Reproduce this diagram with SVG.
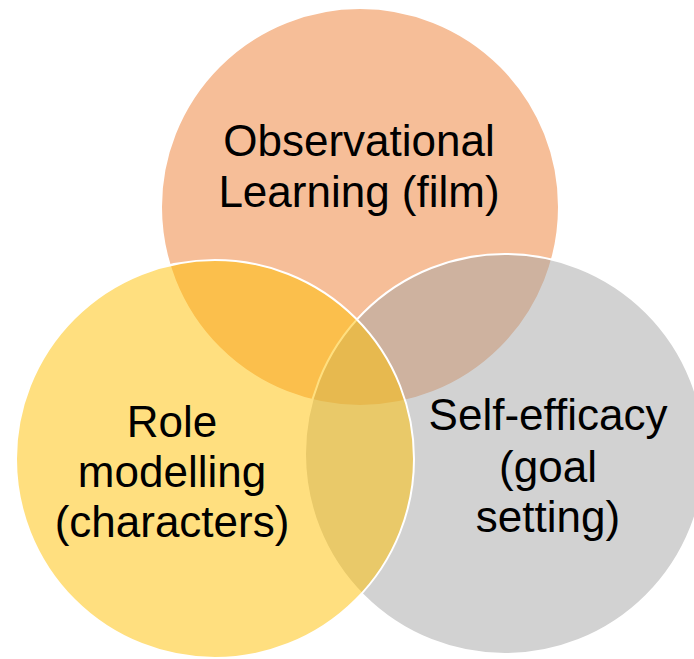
<svg xmlns="http://www.w3.org/2000/svg" width="694" height="659" viewBox="0 0 694 659">
<style>
.c{stroke:#FFFFFF;stroke-width:2;fill-opacity:0.5}
.t{font-family:"Liberation Sans",Arial,sans-serif;font-size:44px;fill:#000000;text-anchor:middle}
</style>
<rect width="694" height="659" fill="#FFFFFF"/>
<g id="observational">
<circle class="c" cx="360" cy="207" r="199" fill="#ED7D31"/>
</g>
<g id="self-efficacy">
<circle class="c" cx="505" cy="454" r="200" fill="#A5A5A5"/>
</g>
<g id="role-modelling">
<circle class="c" cx="215" cy="459" r="199" fill="#FFC000"/>
</g>
<g id="labels">
<text class="t" x="359" y="156">Observational</text>
<text class="t" x="359" y="207">Learning (film)</text>
<text class="t" x="172" y="437">Role</text>
<text class="t" x="172" y="487">modelling</text>
<text class="t" x="172" y="537">(characters)</text>
<text class="t" x="548" y="430">Self-efficacy</text>
<text class="t" x="548" y="482">(goal</text>
<text class="t" x="548" y="532">setting)</text>
</g>
</svg>
